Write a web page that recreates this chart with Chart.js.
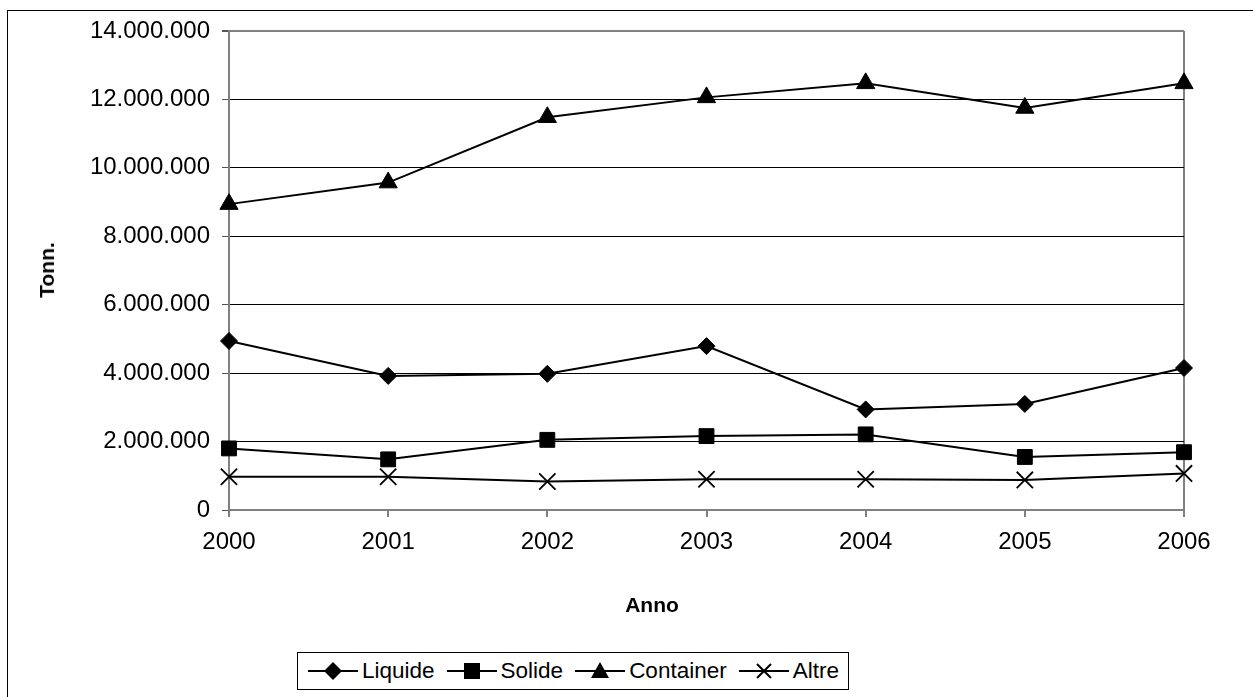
<!DOCTYPE html>
<html>
<head>
<meta charset="utf-8">
<script src="https://cdn.jsdelivr.net/npm/chart.js@4.4.1/dist/chart.umd.min.js"></script>
<style>
  html, body { margin: 0; padding: 0; background: #fff; overflow: hidden; }
  body { width: 1253px; height: 697px; position: relative; font-family: 'Liberation Sans', Arial, sans-serif; }
  #frame { position: absolute; left: 7px; top: 10px; width: 1400px; height: 800px; border: 1px solid #000; box-sizing: border-box; }
  #grafico { position: absolute; left: 0; top: 0; }
  .titolo-asse { position: absolute; font-weight: bold; font-size: 21px; color: #000; white-space: nowrap; }
  #titolo-y { left: 47px; top: 270px; transform: translate(-50%, -50%) rotate(-90deg); }
  #titolo-x { left: 652px; top: 605px; transform: translate(-50%, -50%); }
  #legenda { position: absolute; left: 297px; top: 652px; height: 38px; box-sizing: border-box; border: 1px solid #000;
             display: flex; align-items: center; padding: 0 9px 0 10px; font-size: 22.5px; color: #000; background: #fff; }
  .voce { display: flex; align-items: center; margin-right: 12px; }
  .voce:last-child { margin-right: 0; }
  .voce span { margin-left: 4px; }
</style>
</head>
<body>
<div id="frame"></div>
<canvas id="grafico" width="1253" height="697"></canvas>
<div class="titolo-asse" id="titolo-y">Tonn.</div>
<div class="titolo-asse" id="titolo-x">Anno</div>
<div id="legenda"></div>
<script>
// dati (tonnellate)
const anni = ['2000', '2001', '2002', '2003', '2004', '2005', '2006'];
const liquide = [4940000, 3920000, 3980000, 4790000, 2940000, 3100000, 4150000];
const solide = [1800000, 1480000, 2050000, 2160000, 2210000, 1550000, 1690000];
const container = [8940000, 9570000, 11480000, 12060000, 12470000, 11750000, 12470000];
const altre = [970000, 970000, 830000, 900000, 900000, 880000, 1070000];
const nomiSerie = ['Liquide', 'Solide', 'Container', 'Altre'];

const stili = [
    { pointStyle: 'rectRot', radius: 8.5 },
    { pointStyle: 'rect', radius: 10.5 },
    { pointStyle: 'triangle', radius: 10.5 },
    { pointStyle: 'crossRot', radius: 11.5 }
];

function formatTonn(value) {
    return String(value).replace(/\B(?=(\d{3})+(?!\d))/g, '.');
}

const serie = [liquide, solide, container, altre];
const datasets = serie.map((valori, i) => ({
    label: nomiSerie[i],
    data: valori,
    borderColor: '#000',
    backgroundColor: '#000',
    borderWidth: 2,
    pointStyle: stili[i].pointStyle,
    pointRadius: stili[i].radius,
    pointBorderWidth: i === 3 ? 1.8 : 1,
    pointBorderColor: '#000',
    pointBackgroundColor: '#000',
    tension: 0,
    fill: false,
    clip: false
}));

new Chart(document.getElementById('grafico').getContext('2d'), {
    type: 'line',
    data: { labels: anni, datasets: datasets },
    options: {
        responsive: false,
        animation: false,
        layout: { padding: { left: 0, top: 31, right: 69, bottom: 0 } },
        plugins: { legend: { display: false }, tooltip: { enabled: false } },
        scales: {
            x: {
                offset: false,
                afterFit: (scale) => { scale.height = 187; },
                grid: {
                    color: (ctx) => ctx.index === anni.length - 1 ? '#808080' : 'rgba(0,0,0,0)',
                    lineWidth: 2,
                    tickColor: '#808080',
                    tickLength: 7,
                    drawOnChartArea: true
                },
                border: { display: true, color: '#808080', width: 2 },
                ticks: { color: '#000', font: { family: "'Liberation Sans', Arial", size: 24 }, padding: 11, maxRotation: 0 }
            },
            y: {
                min: 0,
                max: 14000000,
                afterFit: (scale) => { scale.width = 229; },
                grid: {
                    color: (ctx) => ctx.tick && ctx.tick.value === 14000000 ? '#808080' : '#000',
                    lineWidth: (ctx) => ctx.tick && ctx.tick.value === 14000000 ? 2 : 1,
                    tickColor: '#555',
                    tickLength: 7
                },
                border: { display: true, color: '#808080', width: 2 },
                ticks: {
                    stepSize: 2000000,
                    color: '#000',
                    font: { family: "'Liberation Sans', Arial", size: 24 },
                    padding: 12,
                    callback: (value) => formatTonn(value)
                }
            }
        }
    }
});

// legenda con linea e marcatore
function markerSvg(tipo) {
    let forma = '';
    if (tipo === 'rectRot') forma = '<polygon points="25,2 34,11 25,20 16,11" fill="#000"/>';
    if (tipo === 'rect') forma = '<rect x="17" y="3" width="16" height="16" fill="#000"/>';
    if (tipo === 'triangle') forma = '<polygon points="25,2 34,18 16,18" fill="#000"/>';
    if (tipo === 'crossRot') forma = '<path d="M18,4 L32,18 M32,4 L18,18" stroke="#000" stroke-width="2"/>';
    return '<svg width="50" height="22" viewBox="0 0 50 22"><line x1="0" y1="11" x2="50" y2="11" stroke="#000" stroke-width="2"/>' + forma + '</svg>';
}

const legenda = document.getElementById('legenda');
nomiSerie.forEach((nome, i) => {
    legenda.innerHTML += `<div class="voce">${markerSvg(stili[i].pointStyle)}<span>${nome}</span></div>`;
});
</script>
</body>
</html>
